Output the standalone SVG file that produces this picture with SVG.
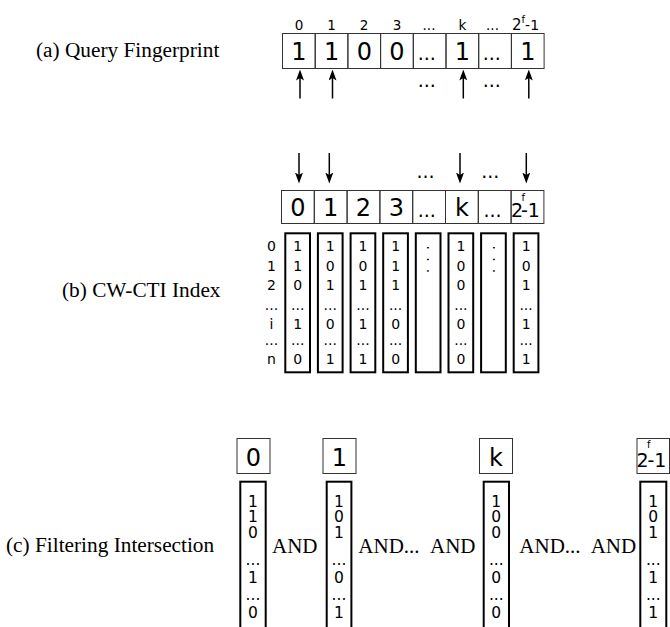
<svg xmlns="http://www.w3.org/2000/svg" width="670" height="627" viewBox="0 0 670 627">
<defs>
<marker id="ah" viewBox="0 0 11 8" refX="5.5" refY="4" markerWidth="11" markerHeight="8" markerUnits="userSpaceOnUse" orient="auto">
<path d="M0,0 L11,4 L0,8 L2.5,4 z" fill="#000"/>
</marker>
<style>
.lbl{font-family:"Liberation Serif","Times New Roman",serif;font-size:21.3px;fill:#000}
.and{font-family:"Liberation Serif","Times New Roman",serif;font-size:21px;fill:#000}
.big{font-family:"DejaVu Sans",sans-serif;font-size:24px;text-anchor:middle;fill:#000}
.sm{font-family:"DejaVu Sans",sans-serif;font-size:13.5px;text-anchor:middle;fill:#000}
.dots{font-family:"DejaVu Sans",sans-serif;font-size:19px;text-anchor:middle;fill:#000}
.bit{font-family:"DejaVu Sans",sans-serif;font-size:14px;text-anchor:middle;fill:#000}
.vdots{font-family:"DejaVu Sans",sans-serif;font-size:14px;letter-spacing:7.2px;fill:#000}
.bitc{font-family:"DejaVu Sans",sans-serif;font-size:15.5px;text-anchor:middle;fill:#000}
.cell{fill:none;stroke:#333;stroke-width:1}
.col{fill:none;stroke:#000;stroke-width:2}
.arr{stroke:#000;stroke-width:1.5;fill:none;marker-end:url(#ah)}
</style>
</defs>

<g id="label-a"><text class="lbl" x="36" y="57">(a) Query Fingerprint</text></g>
<g id="label-b"><text class="lbl" x="62" y="297">(b) CW-CTI Index</text></g>
<g id="label-c"><text class="lbl" x="6" y="552">(c) Filtering Intersection</text></g>

<g id="query-fingerprint">
<text class="sm" x="299" y="30">0</text>
<text class="sm" x="331.5" y="30">1</text>
<text class="sm" x="364" y="30">2</text>
<text class="sm" x="397" y="30">3</text>
<text class="sm" x="429" y="30">...</text>
<text class="sm" x="462.5" y="30">k</text>
<text class="sm" x="492.5" y="30">...</text>
<text class="sm" x="512" y="30" style="text-anchor:start"><tspan style="font-size:15px">2</tspan><tspan dy="-7.5" style="font-size:10px">f</tspan><tspan dy="7.5" style="font-size:14px">-1</tspan></text>
<rect class="cell" x="282.5" y="33.5" width="32.7" height="35"/>
<rect class="cell" x="315.2" y="33.5" width="32.7" height="35"/>
<rect class="cell" x="347.9" y="33.5" width="32.7" height="35"/>
<rect class="cell" x="380.6" y="33.5" width="32.7" height="35"/>
<rect class="cell" x="413.3" y="33.5" width="32.7" height="35"/>
<rect class="cell" x="446" y="33.5" width="32.7" height="35"/>
<rect class="cell" x="478.7" y="33.5" width="32.7" height="35"/>
<rect class="cell" x="511.4" y="33.5" width="32.7" height="35"/>
<text class="big" x="298.9" y="60">1</text>
<text class="big" x="331.6" y="60">1</text>
<text class="big" x="364.3" y="60">0</text>
<text class="big" x="397" y="60">0</text>
<text class="dots" x="426.7" y="60">...</text>
<text class="big" x="462.4" y="60">1</text>
<text class="dots" x="491.7" y="60">...</text>
<text class="big" x="527.8" y="60">1</text>
<text class="dots" x="426.7" y="87">...</text>
<text class="dots" x="491.7" y="87">...</text>
</g>

<g id="index-header">
<text class="dots" x="425.5" y="178">...</text>
<text class="dots" x="490.3" y="178">...</text>
<rect class="cell" x="281.5" y="190.5" width="32.8" height="33"/>
<rect class="cell" x="314.3" y="190.5" width="32.8" height="33"/>
<rect class="cell" x="347.1" y="190.5" width="32.8" height="33"/>
<rect class="cell" x="379.9" y="190.5" width="32.8" height="33"/>
<rect class="cell" x="412.7" y="190.5" width="32.8" height="33"/>
<rect class="cell" x="445.5" y="190.5" width="32.8" height="33"/>
<rect class="cell" x="478.3" y="190.5" width="32.8" height="33"/>
<rect class="cell" x="511.1" y="190.5" width="32.8" height="33"/>
<text class="big" x="297.9" y="215.5">0</text>
<text class="big" x="330.7" y="215.5">1</text>
<text class="big" x="363.5" y="215.5">2</text>
<text class="big" x="396.3" y="215.5">3</text>
<text class="dots" x="426.7" y="216.5">...</text>
<text class="big" x="461.9" y="215.5">k</text>
<text class="dots" x="492.5" y="216.5">...</text>
<text class="big" x="511" y="216.5" style="text-anchor:start"><tspan style="font-size:19px">2</tspan><tspan x="521.5" y="201" style="font-size:10px">f</tspan><tspan x="521" y="216.5" style="font-size:19px">-1</tspan></text>
</g>

<g id="index-rows">
<text class="bit" x="271.5" y="251">0</text>
<text class="bit" x="271.5" y="270.5">1</text>
<text class="bit" x="271.5" y="290">2</text>
<text class="bit" x="271.5" y="309.5">...</text>
<text class="bit" x="271.5" y="328.5">i</text>
<text class="bit" x="271.5" y="344.5">...</text>
<text class="bit" x="271.5" y="363.5">n</text>
</g>

<g id="index-col-0">
<rect class="col" x="285.3" y="233.3" width="24.7" height="139"/>
<text class="bit" x="297.7" y="251">1</text><text class="bit" x="297.7" y="270.5">1</text><text class="bit" x="297.7" y="290">0</text><text class="bit" x="297.7" y="309.5">...</text><text class="bit" x="297.7" y="328.5">1</text><text class="bit" x="297.7" y="344.5">...</text><text class="bit" x="297.7" y="363.5">0</text>
</g>
<g id="index-col-1">
<rect class="col" x="317.9" y="233.3" width="24.7" height="139"/>
<text class="bit" x="330.3" y="251">1</text><text class="bit" x="330.3" y="270.5">0</text><text class="bit" x="330.3" y="290">1</text><text class="bit" x="330.3" y="309.5">...</text><text class="bit" x="330.3" y="328.5">0</text><text class="bit" x="330.3" y="344.5">...</text><text class="bit" x="330.3" y="363.5">1</text>
</g>
<g id="index-col-2">
<rect class="col" x="350.6" y="233.3" width="24.7" height="139"/>
<text class="bit" x="363" y="251">1</text><text class="bit" x="363" y="270.5">0</text><text class="bit" x="363" y="290">1</text><text class="bit" x="363" y="309.5">...</text><text class="bit" x="363" y="328.5">1</text><text class="bit" x="363" y="344.5">...</text><text class="bit" x="363" y="363.5">1</text>
</g>
<g id="index-col-3">
<rect class="col" x="383.2" y="233.3" width="24.7" height="139"/>
<text class="bit" x="395.6" y="251">1</text><text class="bit" x="395.6" y="270.5">1</text><text class="bit" x="395.6" y="290">1</text><text class="bit" x="395.6" y="309.5">...</text><text class="bit" x="395.6" y="328.5">0</text><text class="bit" x="395.6" y="344.5">...</text><text class="bit" x="395.6" y="363.5">0</text>
</g>
<g id="index-col-4">
<rect class="col" x="415.8" y="233.3" width="24.7" height="139"/>
<text class="vdots" transform="translate(427.2,245.5) rotate(90)" x="0" y="0">...</text>
</g>
<g id="index-col-k">
<rect class="col" x="448.5" y="233.3" width="24.7" height="139"/>
<text class="bit" x="460.9" y="251">1</text><text class="bit" x="460.9" y="270.5">0</text><text class="bit" x="460.9" y="290">0</text><text class="bit" x="460.9" y="309.5">...</text><text class="bit" x="460.9" y="328.5">0</text><text class="bit" x="460.9" y="344.5">...</text><text class="bit" x="460.9" y="363.5">0</text>
</g>
<g id="index-col-6">
<rect class="col" x="481.1" y="233.3" width="24.7" height="139"/>
<text class="vdots" transform="translate(492.5,245.5) rotate(90)" x="0" y="0">...</text>
</g>
<g id="index-col-last">
<rect class="col" x="513.7" y="233.3" width="24.7" height="139"/>
<text class="bit" x="526.1" y="251">1</text><text class="bit" x="526.1" y="270.5">0</text><text class="bit" x="526.1" y="290">1</text><text class="bit" x="526.1" y="309.5">...</text><text class="bit" x="526.1" y="328.5">1</text><text class="bit" x="526.1" y="344.5">...</text><text class="bit" x="526.1" y="363.5">1</text>
</g>

<g id="filter-0">
<rect class="cell" x="237" y="438.5" width="33" height="35"/>
<text class="big" x="253.5" y="466">0</text>
<rect class="col" x="240.3" y="481.7" width="25.4" height="170"/>
<text class="bitc" x="253" y="506.5">1</text><text class="bitc" x="253" y="522">1</text><text class="bitc" x="253" y="537.5">0</text><text class="bitc" x="253" y="565">...</text><text class="bitc" x="253" y="583">1</text><text class="bitc" x="253" y="600">...</text><text class="bitc" x="253" y="618">0</text>
</g>
<g id="filter-1">
<rect class="cell" x="323" y="438.5" width="33" height="35"/>
<text class="big" x="339.5" y="466">1</text>
<rect class="col" x="326.7" y="481.7" width="24.7" height="170"/>
<text class="bitc" x="339" y="506.5">1</text><text class="bitc" x="339" y="522">0</text><text class="bitc" x="339" y="537.5">1</text><text class="bitc" x="339" y="565">...</text><text class="bitc" x="339" y="583">0</text><text class="bitc" x="339" y="600">...</text><text class="bitc" x="339" y="618">1</text>
</g>
<g id="filter-k">
<rect class="cell" x="479.5" y="438.5" width="33" height="35"/>
<text class="big" x="496" y="466">k</text>
<rect class="col" x="483.7" y="481.7" width="25.3" height="170"/>
<text class="bitc" x="496.3" y="506.5">1</text><text class="bitc" x="496.3" y="522">0</text><text class="bitc" x="496.3" y="537.5">0</text><text class="bitc" x="496.3" y="565">...</text><text class="bitc" x="496.3" y="583">0</text><text class="bitc" x="496.3" y="600">...</text><text class="bitc" x="496.3" y="618">0</text>
</g>
<g id="filter-last">
<rect class="cell" x="637" y="438.5" width="32.5" height="35"/>
<text class="big" x="636.5" y="467" style="text-anchor:start"><tspan style="font-size:19px">2</tspan><tspan x="647" y="448" style="font-size:10px">f</tspan><tspan x="647.5" y="467" style="font-size:19px">-1</tspan></text>
<rect class="col" x="640.3" y="481.7" width="26" height="170"/>
<text class="bitc" x="653.3" y="506.5">1</text><text class="bitc" x="653.3" y="522">0</text><text class="bitc" x="653.3" y="537.5">1</text><text class="bitc" x="653.3" y="565">...</text><text class="bitc" x="653.3" y="583">1</text><text class="bitc" x="653.3" y="600">...</text><text class="bitc" x="653.3" y="618">1</text>
</g>
<g id="and-ops">
<text class="and" x="272" y="553">AND</text>
<text class="and" x="358.3" y="553">AND... <tspan x="430">AND</tspan></text>
<text class="and" x="519.3" y="553">AND... <tspan x="590.7">AND</tspan></text>
</g>

<g id="connectors">
<line class="arr" x1="300" y1="98.5" x2="300" y2="75"/>
<line class="arr" x1="332.5" y1="98.5" x2="332.5" y2="75"/>
<line class="arr" x1="463.3" y1="98.5" x2="463.3" y2="75"/>
<line class="arr" x1="528.8" y1="98.5" x2="528.8" y2="75"/>
<line class="arr" x1="299" y1="153" x2="299" y2="178"/>
<line class="arr" x1="329.3" y1="153" x2="329.3" y2="178"/>
<line class="arr" x1="460" y1="153" x2="460" y2="178"/>
<line class="arr" x1="526.3" y1="153" x2="526.3" y2="178"/>
</g>
</svg>
